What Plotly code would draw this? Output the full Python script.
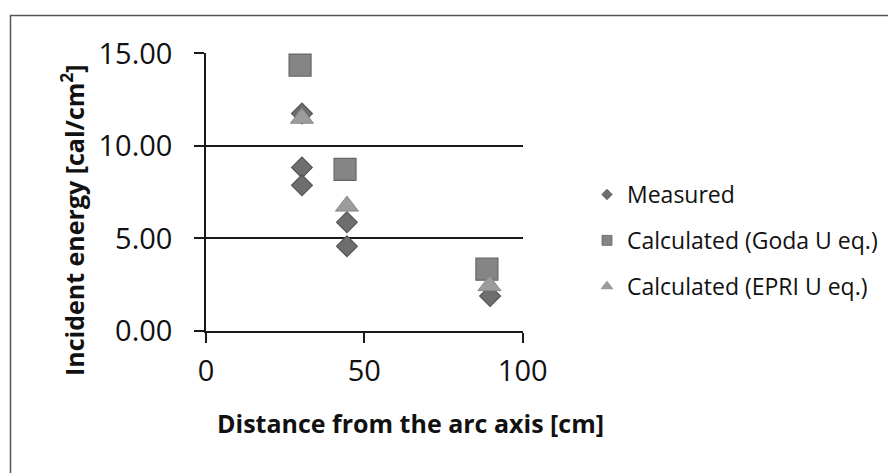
import plotly.graph_objects as go

# Data
meas_x = [30.3, 30.3, 30.3, 44.5, 44.5, 89.7]
meas_y = [11.75, 8.84, 7.87, 5.88, 4.58, 1.89]
goda_x = [29.7, 43.9, 88.7]
goda_y = [14.37, 8.73, 3.34]
epri_x = [30.3, 44.5, 89.5]
epri_y = [11.5, 6.75, 2.45]

x_ticks = [0, 50, 100]
y_ticks = [0, 5, 10, 15]
y_tick_text = ["0.00", "5.00", "10.00", "15.00"]

names = ["Measured", "Calculated (Goda U eq.)", "Calculated (EPRI U eq.)"]

W, H = 896, 473
OFF = 8  # page body margin offset
FONT = "Open Sans"


def px(x):
    return (x - OFF) / W


def py(y):
    return 1 - (y - OFF) / H


fig = go.Figure()

fig.add_trace(go.Scatter(x=goda_x, y=goda_y, mode="markers", showlegend=False,
                         marker=dict(symbol="square", size=22, color="#858585",
                                     line=dict(color="#666666", width=1.2))))
fig.add_trace(go.Scatter(x=meas_x, y=meas_y, mode="markers", showlegend=False,
                         marker=dict(symbol="diamond", size=16, color="#6e6e6e",
                                     line=dict(color="#555555", width=1.2))))
fig.add_trace(go.Scatter(x=epri_x, y=epri_y, mode="markers", showlegend=False,
                         marker=dict(symbol="triangle-up", size=20, color="#9c9c9c",
                                     line=dict(color="#888888", width=1))))

# legend entries
leg_styles = [
    dict(symbol="diamond", size=8, color="#6e6e6e", line=dict(color="#555555", width=0.8)),
    dict(symbol="square", size=10, color="#858585", line=dict(color="#666666", width=0.8)),
    dict(symbol="triangle-up", size=10, color="#9c9c9c", line=dict(color="#888888", width=0.8)),
]
for i, (nm, st) in enumerate(zip(names, leg_styles)):
    fig.add_trace(go.Scatter(x=[None], y=[None], mode="markers", name=nm,
                             marker=st, legendgroup=f"g{i}", showlegend=True))

axis_common = dict(showline=True, linecolor="#1a1a1a", linewidth=1.5,
                   ticks="outside", ticklen=10, tickwidth=1.5, tickcolor="#1a1a1a",
                   tickfont=dict(family=FONT, size=29, color="#111111"),
                   zeroline=False, automargin=False)

fig.update_layout(
    width=W, height=H,
    margin=dict(l=0, r=0, t=0, b=0, pad=0, autoexpand=False),
    paper_bgcolor="white", plot_bgcolor="white",
    font=dict(family=FONT, color="#111111"),
    xaxis=dict(domain=[px(206), px(522.7)], range=[0, 100], tickvals=x_ticks,
               showgrid=False, ticklabelstandoff=3, **axis_common),
    yaxis=dict(domain=[py(331), py(52.7)], range=[0, 15.04], tickvals=y_ticks,
               ticktext=y_tick_text,
               showgrid=True, gridcolor="#1a1a1a", gridwidth=1.5,
               ticklabelstandoff=16, **axis_common),
    legend=dict(x=px(587), y=py(173), xanchor="left", yanchor="top",
                font=dict(family=FONT, size=23, color="#111111"),
                tracegroupgap=13, itemwidth=30, bgcolor="rgba(0,0,0,0)"),
    annotations=[
        dict(text="<b>Incident energy [cal/cm<sup>2</sup>]</b>", xref="paper", yref="paper",
             x=px(73), y=py(220), textangle=-90, showarrow=False,
             font=dict(family=FONT, size=25, color="#111111"),
             xanchor="center", yanchor="middle"),
        dict(text="<b>Distance from the arc axis [cm]</b>", xref="paper", yref="paper",
             x=px(410), y=py(423), showarrow=False,
             font=dict(family=FONT, size=25, color="#111111"),
             xanchor="center", yanchor="middle"),
    ],
    shapes=[
        dict(type="rect", xref="paper", yref="paper", x0=px(10.5), x1=1.05,
             y0=-0.05, y1=py(15.5), line=dict(color="#555555", width=1.5),
             fillcolor="rgba(0,0,0,0)", layer="below"),
    ],
)

fig.write_html("out.html")
